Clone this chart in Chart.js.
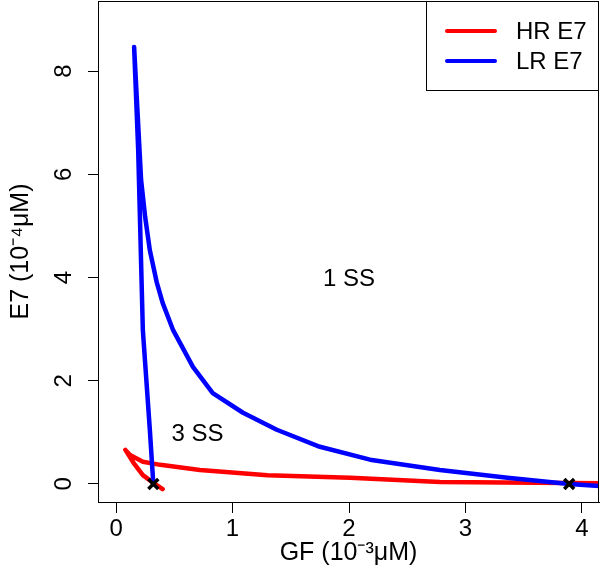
<!DOCTYPE html>
<html>
<head>
<meta charset="utf-8">
<script src="https://cdn.jsdelivr.net/npm/chart.js@4/dist/chart.umd.min.js"></script>
<style>
  html, body { margin: 0; padding: 0; background: #fff; }
  #wrap { width: 600px; height: 578px; position: relative; }
</style>
</head>
<body>
<div id="wrap"><canvas id="ssChart"></canvas></div>
<script>
// HR E7 curve (red), GF in 10^-3 uM, E7 in 10^-4 uM
const hrGF = [0.40, 0.32, 0.23, 0.15, 0.08, 0.12, 0.23, 0.38, 0.72, 1.30, 2.01, 2.78, 3.89, 4.20];
const hrE7 = [-0.10, 0.02, 0.17, 0.41, 0.66, 0.56, 0.43, 0.37, 0.27, 0.17, 0.12, 0.04, 0.02, 0.01];

// LR E7 curve (blue)
const lrGF = [0.32, 0.29, 0.23, 0.19, 0.155, 0.215, 0.25, 0.29, 0.35, 0.40, 0.49, 0.66, 0.83, 1.09, 1.38, 1.75, 2.18, 2.78, 3.36, 3.89, 4.20];
const lrE7 = [0.00, 1.05, 2.98, 6.47, 8.47, 5.89, 5.17, 4.53, 3.90, 3.51, 2.98, 2.27, 1.76, 1.38, 1.05, 0.72, 0.47, 0.27, 0.12, 0.00, -0.05];

// bifurcation points (black crosses)
const bifGF = [0.32, 3.89];
const bifE7 = [0, 0];

// region labels
const regionText = ['1 SS', '3 SS'];
const regionGF = [2.0, 0.7];
const regionE7 = [3.97, 0.97];

const FONT = 'Liberation Sans, Arial, Helvetica, sans-serif';

function toPoints(xs, ys) {
  return xs.map((x, i) => ({ x, y: ys[i] }));
}

// keep the plot box fixed: no extra room for the end labels
function noEdgePadding(scale) {
  scale.paddingTop = 0;
  scale.paddingBottom = 0;
  scale.paddingLeft = 0;
  scale.paddingRight = 0;
}

// R-style box round the plot area (x/y axis lines come from the scales)
const frame = {
  id: 'frame',
  afterDatasetsDraw(chart) {
    const { ctx, chartArea } = chart;
    ctx.save();
    ctx.strokeStyle = '#000';
    ctx.lineWidth = 1;
    ctx.beginPath();
    ctx.moveTo(chartArea.left, Math.round(chartArea.top) + 0.5);
    ctx.lineTo(chartArea.right, Math.round(chartArea.top) + 0.5);
    ctx.moveTo(Math.round(chartArea.right) - 0.5, chartArea.top);
    ctx.lineTo(Math.round(chartArea.right) - 0.5, chartArea.bottom);
    ctx.stroke();
    ctx.restore();
  }
};

// text labels placed at data coordinates
const regionLabels = {
  id: 'regionLabels',
  afterDatasetsDraw(chart) {
    const { ctx, scales } = chart;
    ctx.save();
    ctx.fillStyle = '#000';
    ctx.font = `24px ${FONT}`;
    ctx.textAlign = 'center';
    ctx.textBaseline = 'middle';
    regionText.forEach((text, i) => {
      ctx.fillText(text, scales.x.getPixelForValue(regionGF[i]), scales.y.getPixelForValue(regionE7[i]));
    });
    ctx.restore();
  }
};

// topright legend box like R's legend()
const legendBox = {
  id: 'legendBox',
  afterDraw(chart) {
    const { ctx, chartArea } = chart;
    const items = chart.data.datasets.filter(d => d.inLegend);
    const left = chartArea.right - 173;
    const top = chartArea.top;
    const height = 89;
    ctx.save();
    ctx.fillStyle = '#fff';
    ctx.fillRect(left, top, chartArea.right - left, height);
    ctx.strokeStyle = '#000';
    ctx.lineWidth = 1;
    ctx.strokeRect(Math.round(left) + 0.5, Math.round(top) + 0.5, chartArea.right - left - 1, height);
    ctx.font = `24px ${FONT}`;
    ctx.textBaseline = 'middle';
    ctx.textAlign = 'left';
    items.forEach((d, i) => {
      const y = top + 30 + i * 30;
      ctx.strokeStyle = d.borderColor;
      ctx.lineWidth = 4;
      ctx.lineCap = 'round';
      ctx.beginPath();
      ctx.moveTo(left + 21, y);
      ctx.lineTo(left + 69, y);
      ctx.stroke();
      ctx.fillStyle = '#000';
      ctx.fillText(d.label, left + 90, y + 1);
    });
    ctx.restore();
  }
};

new Chart(document.getElementById('ssChart'), {
  type: 'scatter',
  data: {
    datasets: [
      {
        label: 'HR E7',
        inLegend: true,
        data: toPoints(hrGF, hrE7),
        showLine: true,
        borderColor: '#ff0000',
        borderWidth: 4.5,
        borderCapStyle: 'round',
        borderJoinStyle: 'round',
        pointRadius: 0,
        tension: 0,
        order: 2
      },
      {
        label: 'LR E7',
        inLegend: true,
        data: toPoints(lrGF, lrE7),
        showLine: true,
        borderColor: '#0000ff',
        borderWidth: 4.5,
        borderCapStyle: 'round',
        borderJoinStyle: 'round',
        pointRadius: 0,
        tension: 0,
        order: 1
      },
      {
        label: 'bifurcation',
        data: toPoints(bifGF, bifE7),
        pointStyle: 'crossRot',
        pointRadius: 7,
        borderColor: '#000',
        borderWidth: 3.5,
        order: 0
      }
    ]
  },
  options: {
    responsive: true,
    maintainAspectRatio: false,
    animation: false,
    layout: { autoPadding: false, padding: { top: 1, right: 1, left: 0, bottom: 0 } },
    plugins: {
      legend: { display: false },
      tooltip: { enabled: false }
    },
    scales: {
      x: {
        type: 'linear',
        min: -0.155,
        max: 4.146,
        afterFit(scale) { scale.height = 76; noEdgePadding(scale); },
        ticks: {
          stepSize: 1,
          includeBounds: false,
          color: '#000',
          padding: 2,
          font: { family: FONT, size: 24 },
          maxRotation: 0
        },
        grid: { drawOnChartArea: false, drawTicks: true, tickLength: 11, tickColor: '#000' },
        border: { display: true, color: '#000', width: 1 },
        title: {
          display: true,
          text: 'GF (10⁻³μM)',
          color: '#000',
          font: { family: FONT, size: 25 },
          padding: { top: 0, bottom: 10 }
        }
      },
      y: {
        type: 'linear',
        min: -0.35,
        max: 9.36,
        afterFit(scale) { scale.width = 98; noEdgePadding(scale); },
        ticks: {
          stepSize: 2,
          includeBounds: false,
          color: '#000',
          padding: 17,
          crossAlign: 'center',
          minRotation: 90,
          maxRotation: 90,
          font: { family: FONT, size: 24 }
        },
        grid: { drawOnChartArea: false, drawTicks: true, tickLength: 10, tickColor: '#000' },
        border: { display: true, color: '#000', width: 1 },
        title: {
          display: true,
          text: 'E7 (10⁻⁴μM)',
          color: '#000',
          font: { family: FONT, size: 25 },
          padding: { top: 6, bottom: 0 }
        }
      }
    }
  },
  plugins: [frame, regionLabels, legendBox]
});
</script>
</body>
</html>
